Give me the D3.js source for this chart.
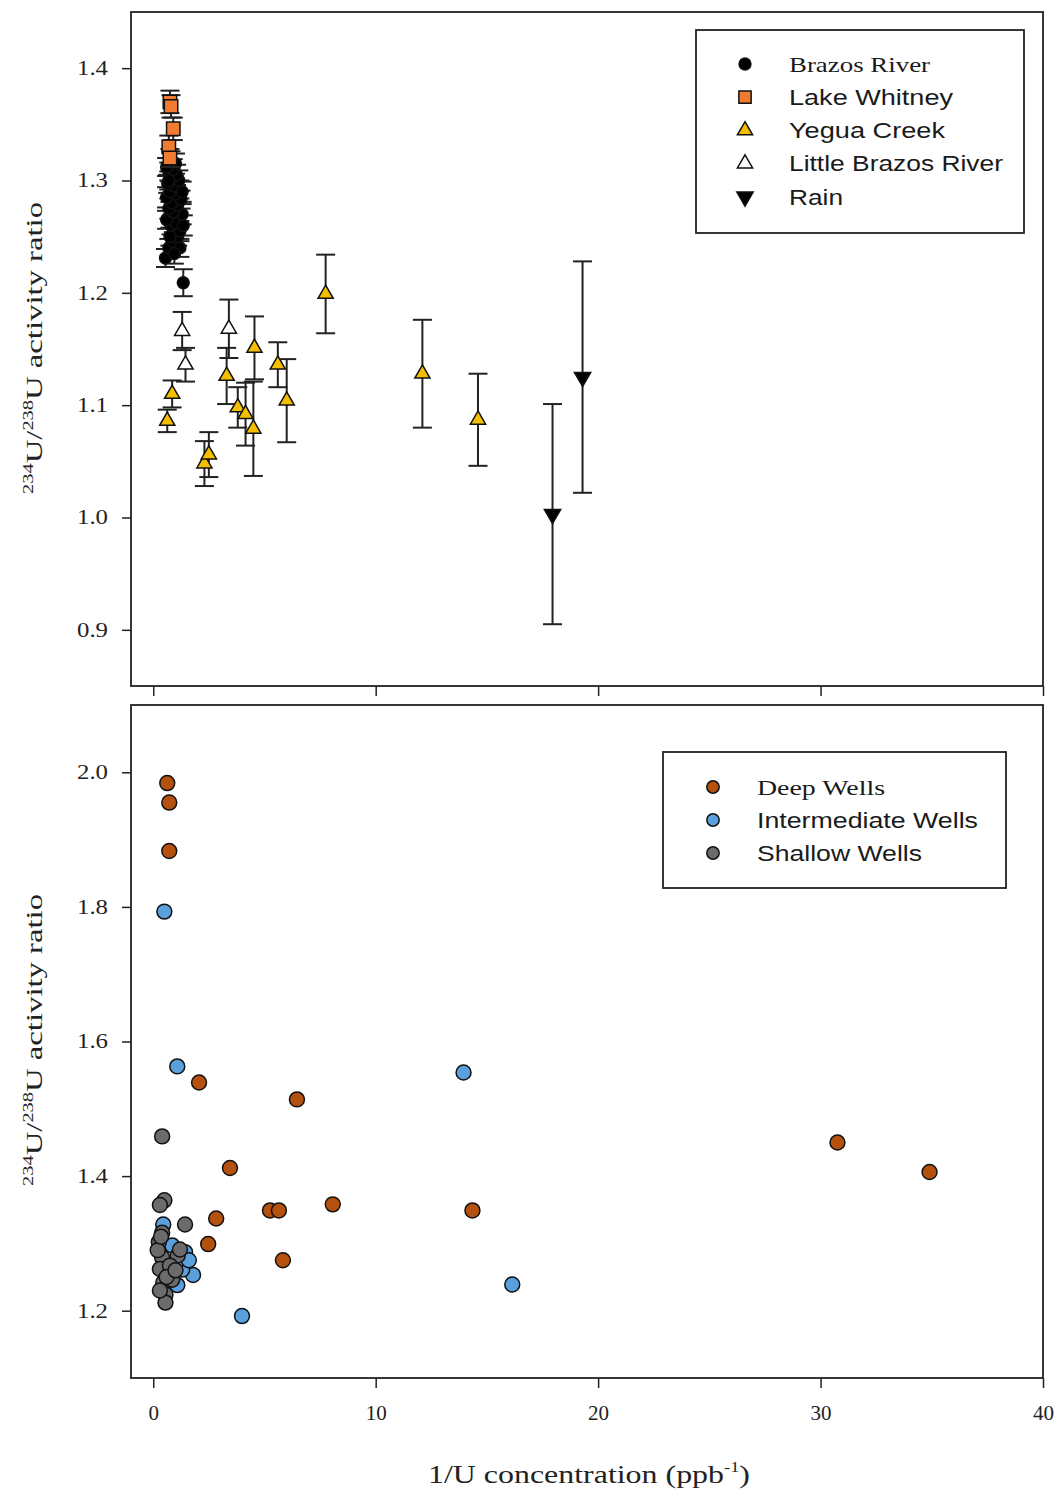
<!DOCTYPE html>
<html>
<head>
<meta charset="utf-8">
<script src="https://cdn.jsdelivr.net/npm/d3@7"></script>
<style>
  body { margin: 0; background: #fff; }
  svg { display: block; }
</style>
</head>
<body>
<svg width="1058" height="1492"></svg>
<script>
// [x (1/U ppb^-1), activity ratio, error]
var brazos = [
  [0.55,1.231,0.008],[0.7,1.24,0.008],[0.9,1.245,0.009],[1.1,1.25,0.008],[1.2,1.255,0.009],
  [0.8,1.26,0.008],[1.0,1.262,0.01],[0.6,1.265,0.008],[1.3,1.27,0.009],[0.9,1.272,0.008],
  [0.7,1.275,0.009],[1.1,1.278,0.008],[0.85,1.28,0.01],[1.25,1.283,0.008],[0.6,1.285,0.009],
  [1.0,1.288,0.008],[0.75,1.29,0.009],[1.2,1.292,0.008],[0.95,1.295,0.009],[0.65,1.297,0.008],
  [1.15,1.3,0.009],[0.8,1.302,0.008],[1.05,1.305,0.009],[0.7,1.308,0.008],[0.9,1.31,0.009],
  [0.6,1.312,0.008],[1.0,1.315,0.009],[0.8,1.318,0.008],[0.7,1.3,0.008],[1.3,1.29,0.009],
  [1.35,1.26,0.009],[1.2,1.24,0.008],[0.75,1.25,0.008],[0.95,1.235,0.009],[1.35,1.209,0.012]
];
var lakeWhitney = [[0.75,1.370,0.010],[0.8,1.366,0.010],[0.9,1.346,0.010],[0.7,1.330,0.010],[0.75,1.320,0.008]];
var yegua = [
  [0.63,1.086,0.010],[0.85,1.110,0.012],[2.3,1.048,0.020],[2.5,1.056,0.020],[3.3,1.126,0.025],
  [3.8,1.098,0.018],[4.15,1.092,0.028],[4.5,1.079,0.042],[4.55,1.151,0.028],[5.6,1.136,0.020],
  [6.0,1.104,0.037],[7.75,1.199,0.035],[12.1,1.128,0.048],[14.6,1.087,0.041]
];
var littleBrazos = [[1.3,1.166,0.017],[1.45,1.136,0.015],[3.4,1.168,0.026]];
var rain = [[17.95,1.003,0.098],[19.3,1.125,0.103]];

var deepWells = [
  [0.63,1.984],[0.72,1.955],[0.72,1.883],[2.06,1.539],[6.46,1.514],[3.45,1.412],[30.76,1.450],
  [34.9,1.406],[5.25,1.349],[5.65,1.349],[8.07,1.358],[14.35,1.349],[2.83,1.337],[2.47,1.299],[5.83,1.275]
];
var intermediateWells = [
  [0.5,1.793],[1.08,1.563],[13.95,1.554],[16.14,1.239],[3.99,1.192],[1.79,1.253],[1.3,1.261],
  [0.85,1.297],[0.45,1.328],[1.43,1.287],[1.08,1.238],[1.0,1.27],[1.6,1.275]
];
var shallowWells = [
  [0.4,1.459],[0.5,1.364],[0.3,1.357],[1.43,1.328],[0.4,1.316],[0.25,1.302],[0.4,1.279],
  [0.3,1.262],[0.45,1.242],[0.55,1.224],[0.55,1.212],[1.1,1.282],[1.2,1.291],[0.75,1.267],
  [0.85,1.246],[0.2,1.29],[0.35,1.31],[0.6,1.25],[1.0,1.26],[0.3,1.23]
];

var xTicks = [0, 10, 20, 30, 40];
var yTicksTop = [0.9, 1.0, 1.1, 1.2, 1.3, 1.4];
var yTicksBot = [1.2, 1.4, 1.6, 1.8, 2.0];

var svg = d3.select("svg");
var serif = "'Liberation Serif', 'Times New Roman', serif";
var sans = "'Liberation Sans', Arial, sans-serif";

var left = 131, right = 1043;
var x = d3.scaleLinear([-1, 40], [left, right]);
var yTop = d3.scaleLinear([0.85, 1.45], [686, 12]);
var yBot = d3.scaleLinear([1.1, 2.1], [1378, 705]);

function panel(y, ticks, showXLabels) {
  var g = svg.append("g");
  var yAxis = d3.axisLeft(y).tickValues(ticks).tickSize(9).tickPadding(14).tickFormat(d3.format(".1f"));
  var ga = g.append("g").attr("transform", "translate(" + left + ",0)").call(yAxis);
  ga.select(".domain").remove();
  ga.selectAll("line").attr("stroke", "#222").attr("stroke-width", 1.5);
  ga.selectAll("text").attr("font-family", serif).attr("font-size", 20).attr("fill", "#222")
    .attr("textLength", 31).attr("lengthAdjust", "spacingAndGlyphs");

  var xAxis = d3.axisBottom(x).tickValues(xTicks).tickSize(10).tickPadding(17).tickFormat(d3.format("d"));
  var gx = g.append("g").attr("transform", "translate(0," + y.range()[0] + ")").call(xAxis);
  gx.select(".domain").remove();
  gx.selectAll("line").attr("stroke", "#222").attr("stroke-width", 1.5);
  if (showXLabels) {
    gx.selectAll("text").attr("font-family", serif).attr("font-size", 21).attr("fill", "#222");
  } else {
    gx.selectAll("text").remove();
  }

  g.append("rect")
    .attr("x", left).attr("y", y.range()[1])
    .attr("width", right - left).attr("height", y.range()[0] - y.range()[1])
    .attr("fill", "none").attr("stroke", "#222").attr("stroke-width", 1.8);
  return g;
}

function yTitle(cy) {
  var t = svg.append("text")
    .attr("transform", "translate(42," + cy + ") rotate(-90)")
    .attr("text-anchor", "middle")
    .attr("font-family", serif).attr("font-size", 24).attr("fill", "#222")
    .attr("textLength", 292).attr("lengthAdjust", "spacingAndGlyphs");
  t.append("tspan").attr("font-size", 15).attr("dy", -9).text("234");
  t.append("tspan").attr("dy", 9).text("U/");
  t.append("tspan").attr("font-size", 15).attr("dy", -9).text("238");
  t.append("tspan").attr("dy", 9).text("U activity ratio");
}

panel(yTop, yTicksTop, false);
panel(yBot, yTicksBot, true);
yTitle(348);
yTitle(1040);

// x axis title
var xt = svg.append("text")
  .attr("x", 589).attr("y", 1483)
  .attr("text-anchor", "middle")
  .attr("font-family", serif).attr("font-size", 26).attr("fill", "#222")
  .attr("textLength", 322).attr("lengthAdjust", "spacingAndGlyphs");
xt.append("tspan").text("1/U concentration (ppb");
xt.append("tspan").attr("font-size", 15).attr("dy", -11).text("-1");
xt.append("tspan").attr("dy", 11).text(")");

// error bars
function errorBars(data) {
  var g = svg.append("g").attr("stroke", "#222").attr("stroke-width", 2);
  data.forEach(function (d) {
    var cx = x(d[0]), y0 = yTop(d[1] - d[2]), y1 = yTop(d[1] + d[2]);
    g.append("line").attr("x1", cx).attr("x2", cx).attr("y1", y0).attr("y2", y1);
    g.append("line").attr("x1", cx - 9.5).attr("x2", cx + 9.5).attr("y1", y0).attr("y2", y0);
    g.append("line").attr("x1", cx - 9.5).attr("x2", cx + 9.5).attr("y1", y1).attr("y2", y1);
  });
}

function markers(data, y, type, size, fill, rot) {
  svg.append("g").selectAll("path").data(data).enter().append("path")
    .attr("d", d3.symbol().type(type).size(size))
    .attr("transform", function (d) {
      return "translate(" + x(d[0]) + "," + y(d[1]) + ")" + (rot ? " rotate(180)" : "");
    })
    .attr("fill", fill).attr("stroke", "#111").attr("stroke-width", 1.5);
}

var topSeries = [
  { data: brazos, type: d3.symbolCircle, size: 110, fill: "#000", rot: false },
  { data: lakeWhitney, type: d3.symbolSquare, size: 180, fill: "#f07c32", rot: false },
  { data: yegua, type: d3.symbolTriangle, size: 100, fill: "#f5bf00", rot: false },
  { data: littleBrazos, type: d3.symbolTriangle, size: 100, fill: "#fff", rot: false },
  { data: rain, type: d3.symbolTriangle, size: 115, fill: "#000", rot: true }
];
topSeries.forEach(function (s) {
  errorBars(s.data);
  markers(s.data, yTop, s.type, s.size, s.fill, s.rot);
});

var botSeries = [
  { data: deepWells, fill: "#b4510f" },
  { data: intermediateWells, fill: "#5aa0dc" },
  { data: shallowWells, fill: "#6b6b6b" }
];
botSeries.forEach(function (s) {
  markers(s.data, yBot, d3.symbolCircle, 175, s.fill, false);
});

// legends
function legend(box, items) {
  var g = svg.append("g");
  g.append("rect").attr("x", box[0]).attr("y", box[1]).attr("width", box[2]).attr("height", box[3])
    .attr("fill", "#fff").attr("stroke", "#222").attr("stroke-width", 1.8);
  items.forEach(function (it) {
    g.append("path")
      .attr("d", d3.symbol().type(it.type).size(it.size))
      .attr("transform", "translate(" + it.sx + "," + it.y + ")" + (it.rot ? " rotate(180)" : ""))
      .attr("fill", it.fill).attr("stroke", "#111").attr("stroke-width", 1.5);
    g.append("text").attr("x", it.tx).attr("y", it.y).attr("dy", "0.35em")
      .attr("font-family", it.font).attr("font-size", 22).attr("fill", "#1a1a1a")
      .attr("textLength", it.len).attr("lengthAdjust", "spacingAndGlyphs")
      .text(it.label);
  });
}

var topLabels = ["Brazos River", "Lake Whitney", "Yegua Creek", "Little Brazos River", "Rain"];
var topLens = [141, 164, 156, 214, 54];
legend([696, 30, 328, 203], topSeries.map(function (s, i) {
  return { label: topLabels[i], len: topLens[i], font: i === 0 ? serif : sans,
    type: s.type, size: s.type === d3.symbolSquare ? 150 : s.size, fill: s.fill, rot: s.rot,
    sx: 745, tx: 789, y: 64 + i * 33.2 };
}));

var botLabels = ["Deep Wells", "Intermediate Wells", "Shallow Wells"];
var botLens = [128, 221, 165];
legend([663, 752, 343, 136], botSeries.map(function (s, i) {
  return { label: botLabels[i], len: botLens[i], font: i === 0 ? serif : sans,
    type: d3.symbolCircle, size: 120, fill: s.fill, rot: false,
    sx: 713, tx: 757, y: 787 + i * 33 };
}));
</script>
</body>
</html>
